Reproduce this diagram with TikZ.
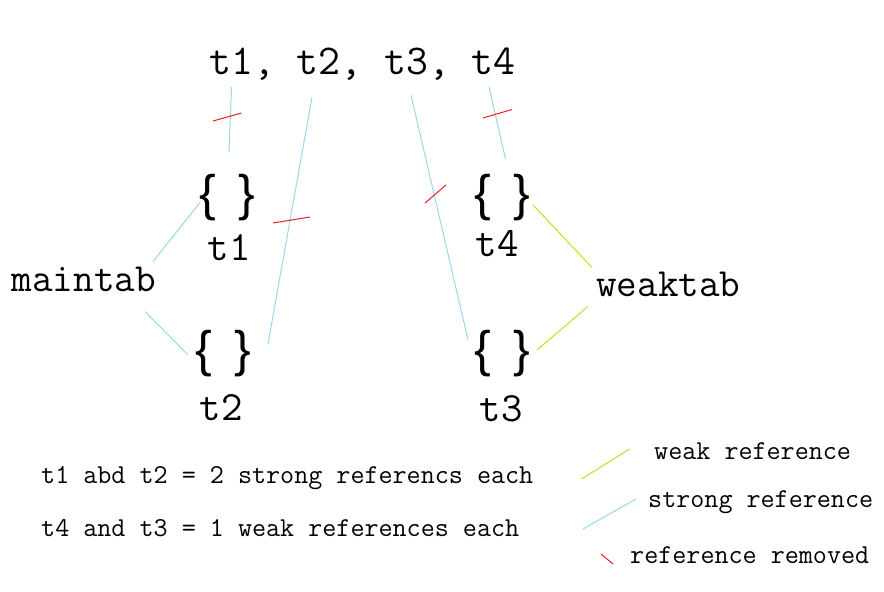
\documentclass[tikz,border=0pt]{standalone}
\usepackage{fontspec}
\newfontfamily\bracefont{Liberation Sans}
\definecolor{strongc}{HTML}{99D9EA}
\definecolor{weakc}{HTML}{B5E61D}
\definecolor{removedc}{HTML}{ED1C24}
\begin{document}
\begin{tikzpicture}[x=1pt,y=-1pt,
  big/.style={font=\ttfamily\fontsize{42.5}{42.5}\selectfont, inner sep=0pt, anchor=base},
  lab/.style={font=\ttfamily\fontsize{41.7}{41.7}\selectfont, inner sep=0pt, anchor=base},
  tab/.style={font=\ttfamily\fontsize{40}{40}\selectfont, inner sep=0pt, anchor=base},
  note/.style={font=\ttfamily\fontsize{27.3}{28}\selectfont, inner sep=0pt, anchor=base west},
  bracebox/.style={font=\bracefont\fontsize{50}{50}\selectfont, inner sep=0pt},
  strongref/.style={draw=strongc, line width=1pt},
  weakref/.style={draw=weakc, line width=1pt},
  removed/.style={draw=removedc, line width=1pt}]
\useasboundingbox[fill=white] (0,0) rectangle (884,592);

% nodes
\node[big] (title) at (362.5,74.5) {t1, t2, t3, t4};
\node[bracebox] (b1) at (227,197.5) {\{\hspace{22pt}\}};
\node[bracebox] (b2) at (223,354) {\{\hspace{22pt}\}};
\node[bracebox] (b4) at (502.5,198) {\{\hspace{22pt}\}};
\node[bracebox] (b3) at (502,354) {\{\hspace{22pt}\}};
\node[lab] (l1) at (229,260) {t1};
\node[lab] (l2) at (221,420) {t2};
\node[lab] (l4) at (497,256.7) {t4};
\node[lab] (l3) at (501,421.7) {t3};
\node[tab] (main) at (83.7,291.7) {maintab};
\node[tab] (weak) at (668.3,296) {weaktab};

\node[note] (n1) at (41,483) {t1 abd t2 = 2 strong referencs each};
\node[note] (n2) at (41,536.5) {t4 and t3 = 1 weak references each};
\node[note] (lw) at (654,459) {weak reference};
\node[note] (ls) at (648,507.5) {strong reference};
\node[note] (lr) at (630,563) {reference removed};

% connector end points
\coordinate (s1a) at (231.5,87);  \coordinate (s1b) at (229,152);
\coordinate (s2a) at (312,97);    \coordinate (s2b) at (268,344);
\coordinate (s3a) at (411,95);    \coordinate (s3b) at (468,340);
\coordinate (s4a) at (489,87);    \coordinate (s4b) at (505.5,159);
\coordinate (m1a) at (153,261.5); \coordinate (m1b) at (200,202.5);
\coordinate (m2a) at (145,311.5); \coordinate (m2b) at (188,355);
\coordinate (w4a) at (533,205);   \coordinate (w4b) at (592,267.5);
\coordinate (w3a) at (537,350);   \coordinate (w3b) at (588,306.5);

% strong references
\draw[strongref] (s1a) -- (s1b);
\draw[strongref] (s2a) -- (s2b);
\draw[strongref] (s3a) -- (s3b);
\draw[strongref] (s4a) -- (s4b);
\draw[strongref] (m1a) -- (m1b);
\draw[strongref] (m2a) -- (m2b);
% weak references
\draw[weakref] (w4a) -- (w4b);
\draw[weakref] (w3a) -- (w3b);
% removed marks
\draw[removed] (213,121) -- (241.5,113);
\draw[removed] (273,223) -- (310,217);
\draw[removed] (425,203) -- (446,185);
\draw[removed] (483,118) -- (512,109.5);

% legend
\coordinate (ky1) at (581.5,479); \coordinate (ky2) at (629.5,449);
\coordinate (kb1) at (583,529);   \coordinate (kb2) at (636,499);
\coordinate (kr1) at (601,554);   \coordinate (kr2) at (613,564);
\draw[weakref] (ky1) -- (ky2);
\draw[strongref] (kb1) -- (kb2);
\draw[removed] (kr1) -- (kr2);
\end{tikzpicture}
\end{document}
